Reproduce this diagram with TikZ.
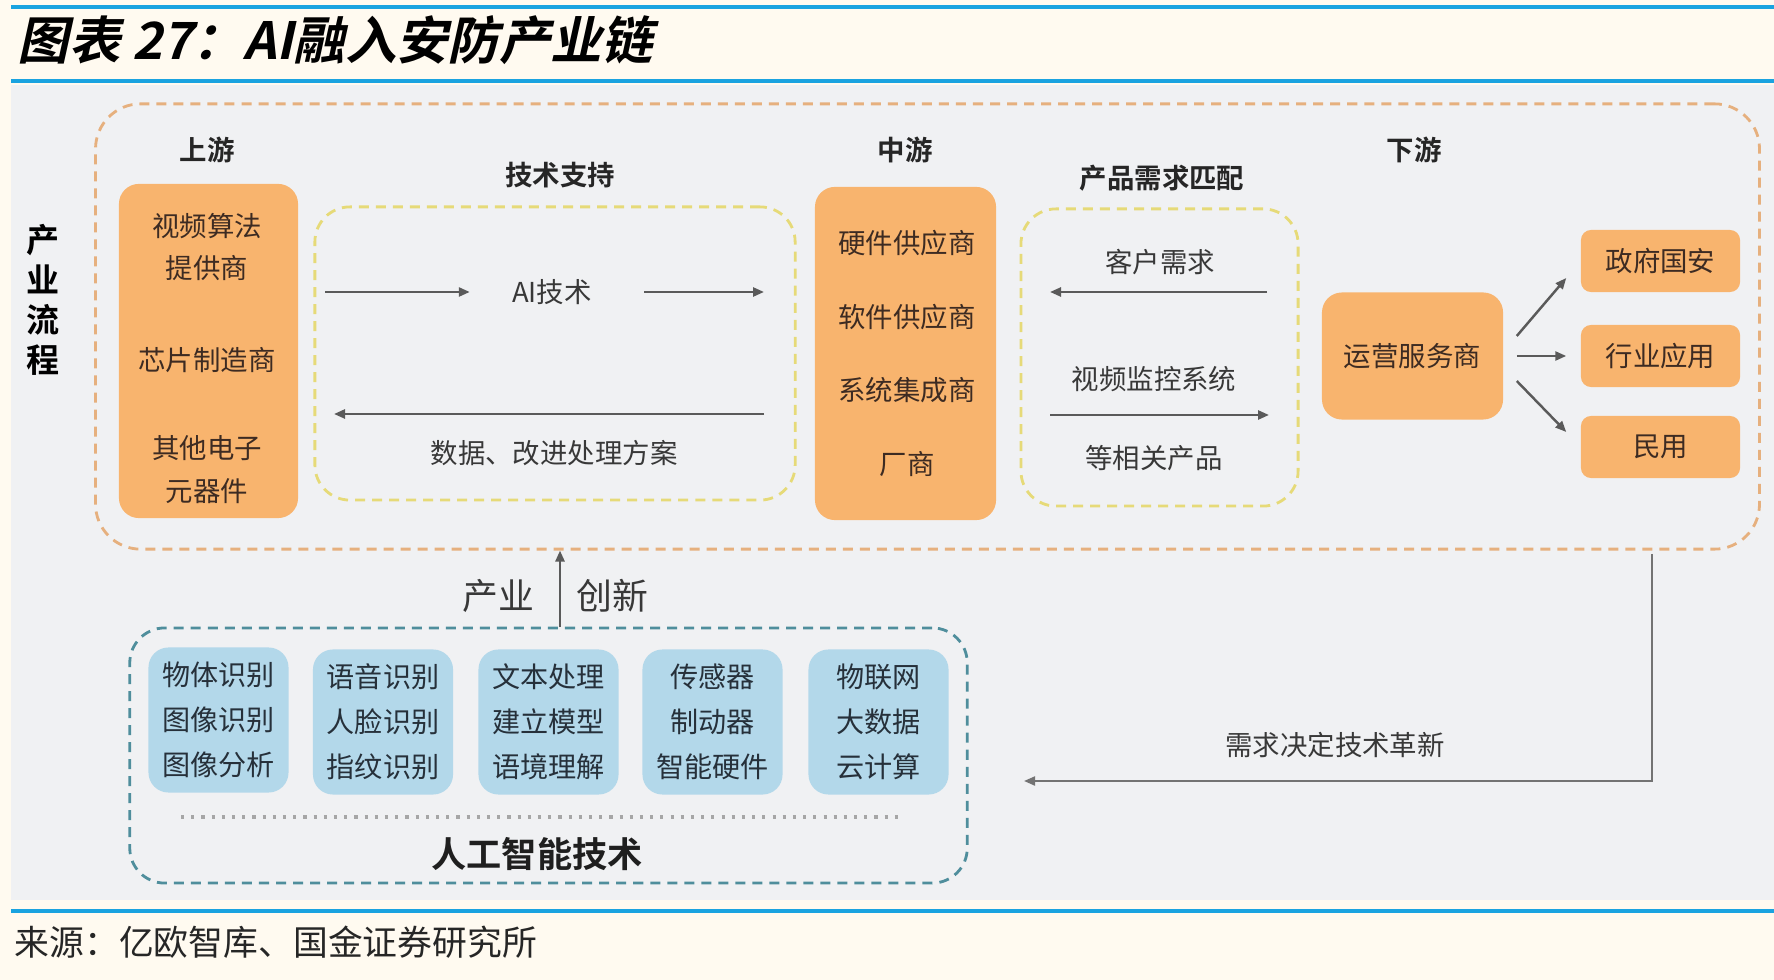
\documentclass[tikz,border=0pt]{standalone}
\usepackage{fontspec}
\setmainfont{Noto Sans CJK SC}[BoldFont={Noto Sans CJK SC Bold}]
\newfontfamily\titlefont{Noto Sans CJK SC Bold}[FakeSlant=0.22]
\usetikzlibrary{arrows.meta}

\definecolor{pagebg}{HTML}{FFFAF0}
\definecolor{panelgray}{HTML}{F0F1F3}
\definecolor{ruleblue}{HTML}{1AA3E0}
\definecolor{boxorange}{HTML}{F8B46E}
\definecolor{boxblue}{HTML}{B3D8EA}
\definecolor{outerdash}{HTML}{E6B07E}
\definecolor{yellowdash}{HTML}{E6DA78}
\definecolor{tealdash}{HTML}{4F8E9C}
\definecolor{arrowgray}{HTML}{5A5A5A}
\definecolor{browntext}{HTML}{3D2B22}
\definecolor{bluetext}{HTML}{26303A}

\begin{document}
\begin{tikzpicture}[
  x=0.01cm, y=-0.01cm,
  font=\fontsize{7.8}{9.5}\selectfont,
  orangebox/.style={fill=boxorange, rounded corners=0.2cm, inner sep=0pt},
  tagbox/.style={fill=boxorange, rounded corners=0.1cm, minimum width=1.59cm, minimum height=0.62cm, text=browntext, inner sep=0pt},
  bluebox/.style={fill=boxblue, rounded corners=0.2cm, minimum width=1.4cm, minimum height=1.45cm, align=center, text=bluetext, inner sep=0pt, font=\fontsize{8}{12.8}\selectfont},
  boxtext/.style={align=center, text=browntext, font=\fontsize{7.8}{12.2}\selectfont},
  head/.style={font=\bfseries\fontsize{7.8}{9}\selectfont, text=black!85},
  plain/.style={text=black!78},
  frame/.style={dashed, dash pattern=on 0.1cm off 0.07cm, line width=0.8pt, inner sep=0pt},
  flow/.style={-{Triangle[length=0.11cm,width=0.09cm]}, draw=arrowgray, line width=0.7pt}
]
% page and panel
\fill[pagebg] (0,0) rectangle (1774,980);
\useasboundingbox (0,0) rectangle (1774,980);
\fill[panelgray] (11,85) rectangle (1774,900);
\draw[ruleblue, line width=1.1pt] (11,7) -- (1774,7);
\draw[ruleblue, line width=1.1pt] (11,81) -- (1774,81);
\draw[ruleblue, line width=1.1pt] (11,911) -- (1774,911);

\node[anchor=west, inner sep=0pt, font=\titlefont\fontsize{14.6}{15}\selectfont] (title) at (17,40) {图表 27：AI融入安防产业链};
\node[anchor=west, inner sep=0pt, font=\fontsize{9.9}{11}\selectfont, text=black!85] (source) at (14,942) {来源：亿欧智库、国金证券研究所};

% frames
\node[frame, draw=outerdash, rounded corners=0.45cm, minimum width=16.63cm, minimum height=4.45cm] (outer) at (927.5,326.5) {};
\node[frame, draw=yellowdash, rounded corners=0.35cm, minimum width=4.8cm, minimum height=2.93cm] (tech) at (555,353.5) {};
\node[frame, draw=yellowdash, rounded corners=0.35cm, minimum width=2.77cm, minimum height=2.97cm] (match) at (1159.5,357.5) {};
\node[frame, draw=tealdash, rounded corners=0.35cm, minimum width=8.37cm, minimum height=2.55cm] (teal) at (548.5,755.5) {};

\node[align=center, font=\bfseries\fontsize{9.4}{11.4}\selectfont] (flowlabel) at (43,300) {产\\业\\流\\程};

% upstream
\node[head] (uphead) at (207,150) {上游};
\node[orangebox, minimum width=1.79cm, minimum height=3.34cm] (up) at (208.5,351) {};
\node[boxtext] (algo) at (207,247) {视频算法\\提供商};
\node[boxtext] (chip) at (207,360) {芯片制造商};
\node[boxtext] (elec) at (207,470) {其他电子\\元器件};

% technical support
\node[head] (techhead) at (560,175) {技术支持};
\node[plain] (aitext) at (552,292) {AI技术};
\coordinate (aiL) at (325,292);
\coordinate (aiR) at (764,292);
\draw[flow] (aiL) -- ([xshift=-0.3cm]aitext.west);
\draw[flow] ([xshift=0.4cm]aitext.east) -- (aiR);
\coordinate (dataR) at (764,414);
\coordinate (dataL) at (334,414);
\draw[flow] (dataR) -- (dataL);
\node[plain] (datatext) at (554,453) {数据、改进处理方案};

% midstream
\node[head] (midhead) at (905,150) {中游};
\node[orangebox, minimum width=1.81cm, minimum height=3.33cm] (mid) at (905.5,353.5) {};
\node[boxtext] (hw) at (907,243) {硬件供应商};
\node[boxtext] (sw) at (907,317) {软件供应商};
\node[boxtext] (si) at (907,390) {系统集成商};
\node[boxtext] (maker) at (907,464) {厂商};

% product matching
\node[head] (matchhead) at (1162,178) {产品需求匹配};
\node[plain] (demand) at (1160,262) {客户需求};
\coordinate (demR) at (1267,292);
\coordinate (demL) at (1050,292);
\draw[flow] (demR) -- (demL);
\node[plain] (video) at (1154,379) {视频监控系统};
\coordinate (prodL) at (1050,415);
\coordinate (prodR) at (1269,415);
\draw[flow] (prodL) -- (prodR);
\node[plain] (prod) at (1154,458) {等相关产品};

% downstream
\node[head] (downhead) at (1414,150) {下游};
\node[orangebox, minimum width=1.81cm, minimum height=1.27cm, text=browntext] (ops) at (1412.5,356) {运营服务商};
\node[tagbox] (gov) at (1660.5,261) {政府国安};
\node[tagbox] (ind) at (1660.5,356) {行业应用};
\node[tagbox] (civ) at (1660.5,447) {民用};
\draw[flow] ([xshift=0.13cm,yshift=0.2cm]ops.east) -- ([xshift=-0.14cm,yshift=-0.17cm]gov.west);
\draw[flow] ([xshift=0.13cm]ops.east) -- ([xshift=-0.14cm]ind.west);
\draw[flow] ([xshift=0.13cm,yshift=-0.25cm]ops.east) -- ([xshift=-0.14cm,yshift=0.15cm]civ.west);

% AI technology
\draw[flow] ([xshift=0.115cm]teal.north) -- ([xshift=0.115cm]teal.north |- outer.south);
\node[plain, font=\fontsize{10.2}{11}\selectfont] (ind1) at (498,596) {产业};
\node[plain, font=\fontsize{10.2}{11}\selectfont] (ind2) at (612,596) {创新};
\node[bluebox] (vis) at (218.5,720) {物体识别\\图像识别\\图像分析};
\node[bluebox] (voice) at (383,722) {语音识别\\人脸识别\\指纹识别};
\node[bluebox] (nlp) at (548.5,722) {文本处理\\建立模型\\语境理解};
\node[bluebox] (sensor) at (712.5,722) {传感器\\制动器\\智能硬件};
\node[bluebox] (iot) at (878.5,722) {物联网\\大数据\\云计算};
\draw[black!35, line width=0.9pt, dotted] (181,817) -- (900,817);
\node[font=\bfseries\fontsize{10}{11}\selectfont, text=black!88] (aihead) at (537,854) {人工智能技术};

% feedback
\coordinate (fbtop) at (1652,554);
\coordinate (fbend) at (1024,781);
\draw[flow, draw=black!55, line width=0.6pt] (fbtop) |- (fbend);
\node[plain] (fblabel) at (1335,745) {需求决定技术革新};
\end{tikzpicture}
\end{document}
